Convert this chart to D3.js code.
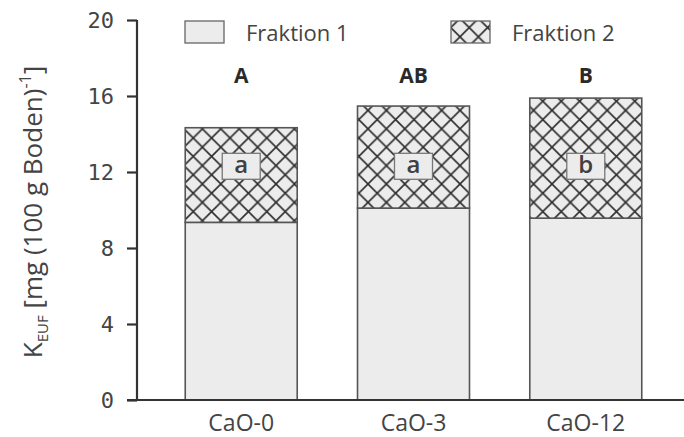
<!DOCTYPE html>
<meta charset="utf-8">
<script src="https://d3js.org/d3.v7.min.js"></script>
<style type="text/css">
  body { margin: 0; background: #fff; }
  text { fill: #404040; }
</style>
<body>
<svg width="684" height="437"></svg>
<script>
    let categories = ['CaO-0', 'CaO-3', 'CaO-12'],
        fraktion1 = [9.35, 10.1, 9.57],
        fraktion2 = [4.98, 5.37, 6.32],
        upperLetters = ['A', 'AB', 'B'],
        lowerLetters = ['a', 'a', 'b'],
        yTicks = [0, 4, 8, 12, 16, 20],
        seriesNames = ['Fraktion 1', 'Fraktion 2']

    let svg = d3.select('svg'),
        defs = svg.append('defs')

    let x = d3.scaleBand().domain(categories).range([137, 690]).paddingInner(0.35).paddingOuter(0.28),
        y = d3.scaleLinear().domain([0, 20]).range([400, 20])

    let pat = defs.append('pattern').attr('id', 'hatch')
        .attr('patternUnits', 'userSpaceOnUse')
        .attr('width', 18.4).attr('height', 18.4)
    pat.append('rect').attr('width', 18.4).attr('height', 18.4).attr('fill', '#ececec')
    pat.append('path').attr('d', 'M-2,-2L20.4,20.4M-2,20.4L20.4,-2')
        .attr('stroke', '#2e2e2e').attr('stroke-width', 1.6)

    let rows = categories.map((c, i) => ({cat: c, f1: fraktion1[i], f2: fraktion2[i], up: upperLetters[i], low: lowerLetters[i]}))

    let g = svg.append('g')

    // fraktion 1
    g.selectAll('rect.f1').data(rows).enter().append('rect')
        .attr('x', d => x(d.cat)).attr('width', x.bandwidth())
        .attr('y', d => y(d.f1)).attr('height', d => y(0) - y(d.f1))
        .attr('fill', '#ececec').attr('stroke', '#555').attr('stroke-width', 1.6)

    // fraktion 2
    g.selectAll('rect.f2').data(rows).enter().append('rect')
        .attr('x', d => x(d.cat)).attr('width', x.bandwidth())
        .attr('y', d => y(d.f1 + d.f2)).attr('height', d => y(d.f1) - y(d.f1 + d.f2))
        .attr('fill', 'url(#hatch)').attr('stroke', '#555').attr('stroke-width', 1.6)

    // letter boxes (same height for all bars)
    let boxY = y(12.3)
    g.selectAll('rect.lb').data(rows).enter().append('rect')
        .attr('x', d => x(d.cat) + x.bandwidth() / 2 - 19).attr('width', 38)
        .attr('y', boxY - 13).attr('height', 26)
        .attr('fill', '#ececec').attr('stroke', '#777').attr('stroke-width', 1.3)
    g.selectAll('text.lt').data(rows).enter().append('text')
        .attr('x', d => x(d.cat) + x.bandwidth() / 2)
        .attr('y', boxY + 7)
        .attr('text-anchor', 'middle')
        .style('font', '600 24px "Open Sans", sans-serif')
        .text(d => d.low)

    g.selectAll('text.up').data(rows).enter().append('text')
        .attr('x', d => x(d.cat) + x.bandwidth() / 2)
        .attr('y', 83)
        .attr('text-anchor', 'middle')
        .style('font', 'bold 21px "Open Sans", sans-serif')
        .style('fill', '#2a2a2a')
        .text(d => d.up)

    // axes
    let yAxis = svg.append('g').attr('transform', 'translate(137,0)')
        .call(d3.axisLeft(y).tickValues(yTicks).tickSize(10).tickPadding(13))
    yAxis.select('.domain').attr('stroke', '#333').attr('stroke-width', 2.2).attr('d', 'M0,20V400')
    yAxis.selectAll('.tick line').attr('stroke', '#333').attr('stroke-width', 2.2)
    yAxis.selectAll('.tick text').style('font', '22px "DejaVu Sans Mono", monospace').style('fill', '#444')

    let xAxis = svg.append('g').attr('transform', 'translate(0,400)')
        .call(d3.axisBottom(x).tickSize(0).tickPadding(15))
    xAxis.select('.domain').attr('stroke', '#333').attr('stroke-width', 2.2).attr('d', 'M127,0H684')
    xAxis.selectAll('.tick text').style('font', '23px "Open Sans", sans-serif').style('fill', '#444')

    // y label
    let yl = svg.append('text').attr('transform', 'translate(42,212) rotate(-90)')
        .attr('text-anchor', 'middle')
        .style('font', '26px "Open Sans", sans-serif').style('fill', '#444')
    yl.append('tspan').text('K')
    yl.append('tspan').attr('dy', 6).style('font-size', '15px').text('EUF')
    yl.append('tspan').attr('dy', -6).text(' [mg (100 g Boden)')
    yl.append('tspan').attr('dy', -11).style('font-size', '16px').text('-1')
    yl.append('tspan').attr('dy', 11).text(']')

    // legend
    let leg = svg.append('g')
    let legX = [185, 451]
    leg.selectAll('rect').data(seriesNames).enter().append('rect')
        .attr('x', (d, i) => legX[i]).attr('y', 21).attr('width', 39).attr('height', 22)
        .attr('fill', (d, i) => i ? 'url(#hatch)' : '#ececec')
        .attr('stroke', '#666').attr('stroke-width', 1.3)
    leg.selectAll('text').data(seriesNames).enter().append('text')
        .attr('x', (d, i) => legX[i] + 61).attr('y', 41)
        .style('font', '22px "Open Sans", sans-serif').style('fill', '#444')
        .text(d => d)
</script>
</body>
